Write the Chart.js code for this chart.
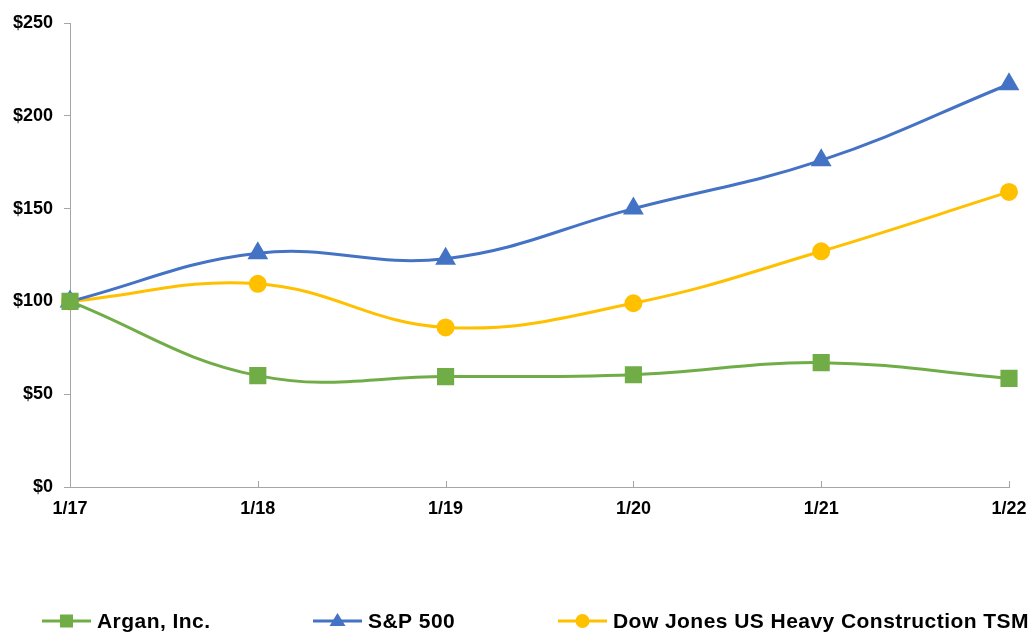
<!DOCTYPE html>
<html>
<head>
<meta charset="utf-8">
<script src="https://cdn.jsdelivr.net/npm/chart.js@4"></script>
<style>
  html, body { margin: 0; padding: 0; background: #fff; }
  #wrap { width: 1034px; height: 633px; position: relative; }
</style>
</head>
<body>
<div id="wrap"><canvas id="perfChart"></canvas></div>
<script>
// ---- data ----
const periods = ['1/17', '1/18', '1/19', '1/20', '1/21', '1/22'];
const arganValues = [100, 60, 59.5, 60.5, 67, 58.5];
const spValues = [100, 126, 123, 150, 176, 217];
const dowValues = [100, 109.5, 86, 99, 127, 159];
const yTicks = [0, 50, 100, 150, 200, 250];

const FONT = '"Liberation Sans", Arial, sans-serif';

/* ===== x-axis tick marks pointing up, like the original ===== */
const upTicks = {
    id: 'upTicks',
    afterDraw(chart) {
        const ctx = chart.ctx;
        const x = chart.scales.x;
        const bottom = chart.chartArea.bottom;
        ctx.save();
        ctx.strokeStyle = '#a6a6a6';
        ctx.lineWidth = 1;
        x.ticks.forEach((t, i) => {
            const px = Math.round(x.getPixelForTick(i)) + 0.5;
            ctx.beginPath();
            ctx.moveTo(px, bottom);
            ctx.lineTo(px, bottom - 6);
            ctx.stroke();
        });
        ctx.restore();
    }
};

/* ===== legend drawn under the plot ===== */
const bottomLegend = {
    id: 'bottomLegend',
    afterDraw(chart) {
        const ctx = chart.ctx;
        const slots = [42, 313, 558];
        const y = 621;
        ctx.save();
        chart.data.datasets.forEach((ds, i) => {
            const x0 = slots[i];
            ctx.strokeStyle = ds.borderColor;
            ctx.lineWidth = 3;
            ctx.beginPath();
            ctx.moveTo(x0, y);
            ctx.lineTo(x0 + 49, y);
            ctx.stroke();
            const cx = x0 + 24.5;
            ctx.fillStyle = ds.backgroundColor;
            if (ds.pointStyle === 'rect') {
                ctx.fillRect(cx - 6.5, y - 6.5, 13, 13);
            } else if (ds.pointStyle === 'triangle') {
                ctx.beginPath();
                ctx.moveTo(cx, y - 8);
                ctx.lineTo(cx + 8, y + 5);
                ctx.lineTo(cx - 8, y + 5);
                ctx.closePath();
                ctx.fill();
            } else {
                ctx.beginPath();
                ctx.arc(cx, y, 7, 0, Math.PI * 2);
                ctx.fill();
            }
            ctx.fillStyle = '#000';
            ctx.font = 'bold 21px ' + FONT;
            ctx.letterSpacing = '0.45px';
            ctx.textBaseline = 'middle';
            ctx.textAlign = 'left';
            ctx.fillText(ds.label, x0 + 55, y + 1);
        });
        ctx.restore();
    }
};

new Chart(document.getElementById('perfChart'), {

    type: 'line',

    data: {
        labels: periods,
        datasets: [
            {
                label: 'Argan, Inc.',
                data: arganValues,
                borderColor: '#70ad47',
                backgroundColor: '#70ad47',
                pointStyle: 'rect',
                pointRadius: 10,
                borderWidth: 3
            },
            {
                label: 'S&P 500',
                data: spValues,
                borderColor: '#4472c4',
                backgroundColor: '#4472c4',
                pointStyle: 'triangle',
                pointRadius: 9,
                borderWidth: 3
            },
            {
                label: 'Dow Jones US Heavy Construction TSM',
                data: dowValues,
                borderColor: '#ffc000',
                backgroundColor: '#ffc000',
                pointStyle: 'circle',
                pointRadius: 7.5,
                borderWidth: 3
            }
        ]
    },

    options: {
        responsive: true,
        maintainAspectRatio: false,
        animation: false,
        elements: {
            line: { tension: 0.4 },
            point: { borderWidth: 0 }
        },
        layout: {
            padding: { top: 23, right: 25, left: 0, bottom: 0 }
        },
        plugins: {
            legend: { display: false },
            tooltip: { enabled: false }
        },
        scales: {
            x: {
                offset: false,
                grid: { display: false },
                border: { color: '#a6a6a6', width: 1 },
                ticks: {
                    color: '#000',
                    padding: 3,
                    maxRotation: 0,
                    font: { family: FONT, size: 18, weight: 'bold' }
                },
                afterFit: s => { s.height = 146; }
            },
            y: {
                min: 0,
                max: 250,
                afterBuildTicks: s => { s.ticks = yTicks.map(v => ({ value: v })); },
                grid: {
                    drawOnChartArea: false,
                    drawTicks: true,
                    tickLength: 6,
                    color: '#a6a6a6'
                },
                border: { color: '#a6a6a6', width: 1 },
                ticks: {
                    color: '#000',
                    padding: 11,
                    font: { family: FONT, size: 18, weight: 'bold' },
                    callback: v => '$' + v
                },
                afterFit: s => { s.width = 70; }
            }
        }
    },

    plugins: [upTicks, bottomLegend]
});
</script>
</body>
</html>
